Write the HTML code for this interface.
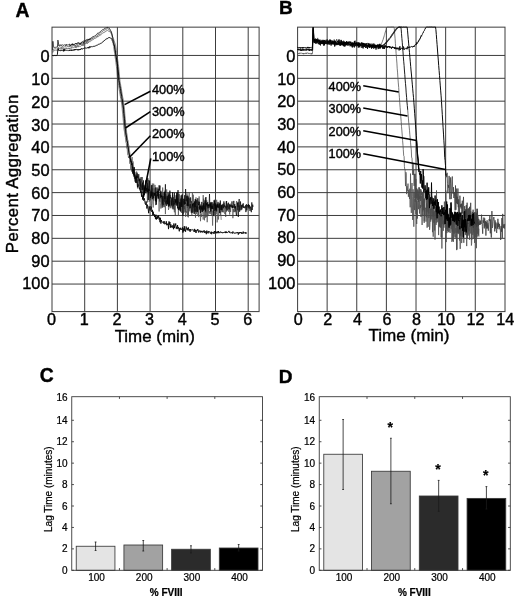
<!DOCTYPE html>
<html><head><meta charset="utf-8"><title>Figure</title>
<style>html,body{margin:0;padding:0;background:#fff}svg{display:block}</style></head>
<body>
<svg width="520" height="602" viewBox="0 0 520 602">
<rect width="520" height="602" fill="#fff"/>
<g stroke="#3c3c3c" stroke-width="1" fill="none">
<rect x="52.00" y="27.15" width="207.10" height="284.45"/>
<line x1="84.70" y1="27.15" x2="84.70" y2="311.60"/>
<line x1="117.40" y1="27.15" x2="117.40" y2="311.60"/>
<line x1="150.10" y1="27.15" x2="150.10" y2="311.60"/>
<line x1="182.80" y1="27.15" x2="182.80" y2="311.60"/>
<line x1="215.50" y1="27.15" x2="215.50" y2="311.60"/>
<line x1="248.20" y1="27.15" x2="248.20" y2="311.60"/>
<line x1="52.00" y1="55.45" x2="259.10" y2="55.45"/>
<line x1="52.00" y1="78.31" x2="259.10" y2="78.31"/>
<line x1="52.00" y1="101.17" x2="259.10" y2="101.17"/>
<line x1="52.00" y1="124.03" x2="259.10" y2="124.03"/>
<line x1="52.00" y1="146.89" x2="259.10" y2="146.89"/>
<line x1="52.00" y1="169.75" x2="259.10" y2="169.75"/>
<line x1="52.00" y1="192.61" x2="259.10" y2="192.61"/>
<line x1="52.00" y1="215.47" x2="259.10" y2="215.47"/>
<line x1="52.00" y1="238.33" x2="259.10" y2="238.33"/>
<line x1="52.00" y1="261.19" x2="259.10" y2="261.19"/>
<line x1="52.00" y1="284.05" x2="259.10" y2="284.05"/>
</g>
<g stroke="#3c3c3c" stroke-width="1" fill="none">
<rect x="297.60" y="27.15" width="207.40" height="284.45"/>
<line x1="327.13" y1="27.15" x2="327.13" y2="311.60"/>
<line x1="356.76" y1="27.15" x2="356.76" y2="311.60"/>
<line x1="386.39" y1="27.15" x2="386.39" y2="311.60"/>
<line x1="416.02" y1="27.15" x2="416.02" y2="311.60"/>
<line x1="445.65" y1="27.15" x2="445.65" y2="311.60"/>
<line x1="475.28" y1="27.15" x2="475.28" y2="311.60"/>
<line x1="297.60" y1="55.45" x2="505.00" y2="55.45"/>
<line x1="297.60" y1="78.31" x2="505.00" y2="78.31"/>
<line x1="297.60" y1="101.17" x2="505.00" y2="101.17"/>
<line x1="297.60" y1="124.03" x2="505.00" y2="124.03"/>
<line x1="297.60" y1="146.89" x2="505.00" y2="146.89"/>
<line x1="297.60" y1="169.75" x2="505.00" y2="169.75"/>
<line x1="297.60" y1="192.61" x2="505.00" y2="192.61"/>
<line x1="297.60" y1="215.47" x2="505.00" y2="215.47"/>
<line x1="297.60" y1="238.33" x2="505.00" y2="238.33"/>
<line x1="297.60" y1="261.19" x2="505.00" y2="261.19"/>
<line x1="297.60" y1="284.05" x2="505.00" y2="284.05"/>
</g>
<g>
<polyline points="52.0,53.3 52.5,53.1 52.9,52.0 53.4,50.7 53.8,50.7 54.3,50.5 54.7,50.6 55.2,50.6 55.6,50.1 56.1,50.5 56.5,50.3 57.0,50.5 57.4,50.4 57.9,49.5 58.3,49.2 58.8,48.5 59.2,49.2 59.7,48.4 60.1,48.8 60.6,48.5 61.0,49.6 61.5,48.5 61.9,48.9 62.4,49.0 62.8,48.5 63.3,49.0 63.7,48.5 64.2,50.3 64.6,48.4 65.1,49.2 65.5,49.4 66.0,47.9 66.4,48.9 66.9,48.2 67.3,48.3 67.8,48.7 68.2,48.1 68.7,48.8 69.1,47.8 69.6,49.2 70.0,48.0 70.5,48.3 70.9,47.7 71.4,48.4 71.8,47.2 72.3,48.1 72.7,47.7 73.2,47.5 73.6,47.6 74.1,47.4 74.5,47.1 75.0,47.4 75.4,46.5 75.9,48.0 76.3,46.3 76.8,47.4 77.2,46.4 77.7,46.9 78.1,46.0 78.6,47.0 79.0,46.9 79.5,46.1 79.9,45.9 80.4,46.3 80.8,46.2 81.3,45.8 81.7,44.7 82.2,45.3 82.6,44.8 83.1,46.0 83.5,43.4 84.0,44.7 84.4,43.8 84.9,43.3 85.3,43.6 85.8,43.9 86.2,42.5 86.7,42.8 87.1,43.9 87.6,43.1 88.0,41.7 88.5,42.6 88.9,41.3 89.4,41.7 89.8,41.3 90.3,41.6 90.7,40.5 91.2,40.8 91.6,39.9 92.1,40.2 92.5,39.8 93.0,39.9 93.4,39.2 93.9,39.2 94.3,38.4 94.8,38.9 95.2,38.5 95.7,37.9 96.1,37.6 96.6,37.8 97.0,37.1 97.5,36.4 97.9,37.1 98.4,35.9 98.8,35.8 99.3,35.9 99.7,35.2 100.2,34.6 100.6,35.3 101.1,34.2 101.5,34.1 102.0,33.4 102.4,33.0 102.9,33.2 103.3,32.7 103.8,33.0 104.2,32.1 104.7,32.1 105.1,31.6 105.6,31.7 106.0,31.1 106.5,30.8 106.9,30.7 107.4,30.2 107.8,30.7 108.3,30.8 108.7,31.4 109.2,31.2 109.6,31.5 110.1,31.6 110.5,32.7 111.0,33.2 111.4,34.2 111.9,34.6 112.3,36.0 112.8,37.3 113.2,38.6 113.7,39.4 114.1,41.0 114.6,42.3 115.0,43.3 115.5,44.9 115.9,47.1 116.4,50.5 116.8,53.4 117.3,57.2 117.7,59.9 118.2,63.3 118.6,66.5 119.1,71.6 119.5,76.2 120.0,81.3 120.4,83.3 120.9,86.4 121.3,88.1 121.8,92.0 122.2,94.1 122.7,97.2 123.1,98.7 123.6,102.7 124.0,105.0 124.5,109.2 124.9,115.3 125.4,119.5 125.8,125.0 126.3,128.7 126.7,133.0 127.2,135.3 127.6,139.4 128.1,140.7 128.5,145.1 129.0,145.6 129.4,150.2 129.9,153.1 130.3,155.3 130.8,160.5 131.2,158.8 131.7,162.8 132.1,157.0 132.6,166.5 133.0,161.4 133.5,164.6 133.9,172.9 134.4,175.2 134.8,171.8 135.3,173.9 135.7,177.1 136.2,174.6 136.6,176.0 137.1,176.5 137.5,188.4 138.0,176.0 138.4,181.1 138.9,174.2 139.3,180.2 139.8,183.6 140.2,178.7 140.7,185.9 141.1,187.9 141.6,186.1 142.0,182.9 142.5,177.1 142.9,187.3 143.4,186.6 143.8,196.9 144.3,185.7 144.7,190.1 145.2,185.7 145.6,188.0 146.1,190.7 146.5,179.8 146.9,193.1 147.4,183.2 147.8,183.5 148.3,194.5 148.7,186.2 149.2,201.9 149.6,196.5 150.1,189.6 150.5,200.0 151.0,192.0 151.4,185.5 151.9,197.5 152.3,183.5 152.8,195.8 153.2,207.5 153.7,183.6 154.1,192.7 154.6,195.3 155.0,192.0 155.5,202.3 155.9,194.8 156.4,201.6 156.8,198.3 157.3,193.8 157.7,187.4 158.2,198.7 158.6,194.2 159.1,197.9 159.5,200.7 160.0,197.5 160.4,203.3 160.9,208.6 161.3,199.4 161.8,192.9 162.2,203.8 162.7,197.1 163.1,192.7 163.6,193.4 164.0,201.3 164.5,201.9 164.9,190.7 165.4,214.1 165.8,194.0 166.3,201.8 166.7,189.4 167.2,204.3 167.6,198.4 168.1,204.5 168.5,195.1 169.0,202.9 169.4,191.9 169.9,206.9 170.3,194.9 170.8,205.9 171.2,204.8 171.7,198.7 172.1,208.3 172.6,198.9 173.0,205.4 173.5,197.3 173.9,207.5 174.4,212.3 174.8,199.0 175.3,215.1 175.7,199.7 176.2,203.6 176.6,192.9 177.1,195.8 177.5,205.5 178.0,198.3 178.4,215.1 178.9,200.7 179.3,194.4 179.8,209.3 180.2,199.6 180.7,211.3 181.1,198.9 181.6,212.9 182.0,203.9 182.5,207.3 182.9,199.0 183.4,213.6 183.8,209.8 184.3,206.1 184.7,212.5 185.2,201.9 185.6,216.8 186.1,211.2 186.5,212.8 187.0,199.1 187.4,216.6 187.9,207.6 188.3,217.4 188.8,208.7 189.2,204.3 189.7,211.3 190.1,204.6 190.6,206.3 191.0,212.5 191.5,213.2 191.9,214.9 192.4,192.5 192.8,211.9 193.3,205.4 193.7,207.9 194.2,202.1 194.6,210.5 195.1,209.1 195.5,217.7 196.0,197.4 196.4,214.1 196.9,207.1 197.3,211.2 197.8,211.3 198.2,201.3 198.7,217.1 199.1,196.4 199.6,203.4 200.0,207.3 200.5,221.2 200.9,213.9 201.4,216.9 201.8,210.9 202.3,207.4 202.7,209.5 203.2,219.6 203.6,198.7 204.1,208.7 204.5,220.3 205.0,202.2 205.4,217.7 205.9,206.3 206.3,217.2 206.8,200.3 207.2,222.2 207.7,207.2 208.1,211.4 208.6,210.3 209.0,213.2 209.5,211.0 209.9,214.2 210.4,204.1 210.8,214.1 211.3,205.9 211.7,215.4 212.2,210.8 212.6,225.6 213.1,209.8 213.5,212.8 214.0,200.2 214.4,216.2 214.9,211.7 215.3,215.4 215.8,209.7 216.2,214.0 216.7,199.8 217.1,222.4 217.6,216.4 218.0,205.7 218.5,219.5 218.9,209.7 219.4,212.9 219.8,204.4 220.3,215.0 220.7,211.0 221.2,219.9" fill="none" stroke="#4a4a4a" stroke-width="0.65" stroke-linejoin="round" opacity="1"/>
<polyline points="52.0,51.4 52.5,51.4 52.9,50.5 53.4,49.6 53.8,48.9 54.3,48.9 54.7,49.0 55.2,48.8 55.6,48.8 56.1,48.7 56.5,49.1 57.0,48.8 57.4,48.6 57.9,48.5 58.3,47.3 58.8,47.2 59.2,46.8 59.7,46.8 60.1,46.8 60.6,47.3 61.0,47.3 61.5,46.8 61.9,48.4 62.4,46.5 62.8,46.1 63.3,47.3 63.7,47.5 64.2,47.1 64.6,46.8 65.1,47.0 65.5,46.7 66.0,46.5 66.4,47.2 66.9,46.7 67.3,46.4 67.8,46.6 68.2,47.1 68.7,46.4 69.1,46.8 69.6,45.9 70.0,46.8 70.5,45.5 70.9,46.2 71.4,46.1 71.8,46.4 72.3,45.5 72.7,46.4 73.2,45.8 73.6,45.5 74.1,46.1 74.5,45.4 75.0,46.4 75.4,45.2 75.9,46.2 76.3,45.0 76.8,44.3 77.2,44.7 77.7,45.8 78.1,44.6 78.6,45.4 79.0,45.0 79.5,44.7 79.9,43.6 80.4,45.0 80.8,43.3 81.3,44.2 81.7,43.7 82.2,44.7 82.6,44.0 83.1,42.7 83.5,43.4 84.0,42.3 84.4,43.4 84.9,42.8 85.3,42.0 85.8,41.3 86.2,41.0 86.7,42.6 87.1,40.7 87.6,41.5 88.0,40.6 88.5,40.6 88.9,40.5 89.4,40.0 89.8,40.3 90.3,39.2 90.7,39.7 91.2,38.9 91.6,39.0 92.1,38.2 92.5,38.8 93.0,37.8 93.4,38.1 93.9,37.3 94.3,37.5 94.8,36.8 95.2,37.3 95.7,36.8 96.1,36.0 96.6,36.4 97.0,35.5 97.5,35.7 97.9,35.1 98.4,34.7 98.8,34.0 99.3,34.5 99.7,33.6 100.2,33.3 100.6,32.4 101.1,32.3 101.5,32.3 102.0,31.5 102.4,31.6 102.9,31.0 103.3,30.9 103.8,30.3 104.2,30.6 104.7,29.7 105.1,29.7 105.6,29.7 106.0,29.3 106.5,29.3 106.9,28.4 107.4,28.6 107.8,29.1 108.3,29.2 108.7,29.7 109.2,29.8 109.6,29.8 110.1,30.8 110.5,31.2 111.0,32.2 111.4,32.7 111.9,34.8 112.3,38.1 112.8,40.7 113.2,44.1 113.7,46.7 114.1,50.1 114.6,53.1 115.0,56.6 115.5,59.5 115.9,62.7 116.4,66.3 116.8,70.1 117.3,76.1 117.7,80.6 118.2,83.5 118.6,85.6 119.1,89.3 119.5,91.3 120.0,94.4 120.4,96.5 120.9,99.1 121.3,101.7 121.8,105.0 122.2,108.9 122.7,114.2 123.1,118.7 123.6,124.2 124.0,129.4 124.5,132.0 124.9,135.8 125.4,137.3 125.8,142.1 126.3,143.1 126.7,148.3 127.2,148.3 127.6,154.5 128.1,154.3 128.5,157.9 129.0,156.3 129.4,157.5 129.9,163.8 130.3,159.5 130.8,169.0 131.2,164.1 131.7,171.6 132.1,168.9 132.6,171.1 133.0,169.9 133.5,176.5 133.9,171.7 134.4,178.6 134.8,174.5 135.3,181.9 135.7,183.0 136.2,172.9 136.6,171.5 137.1,183.1 137.5,180.4 138.0,184.5 138.4,177.4 138.9,186.1 139.3,179.3 139.8,189.5 140.2,181.3 140.7,186.5 141.1,184.3 141.6,190.4 142.0,185.7 142.5,189.8 142.9,188.0 143.4,192.2 143.8,184.9 144.3,189.5 144.7,188.2 145.2,191.2 145.6,185.1 146.1,191.1 146.5,193.2 146.9,185.5 147.4,202.4 147.8,189.8 148.3,191.8 148.7,180.0 149.2,190.4 149.6,200.1 150.1,200.7 150.5,196.3 151.0,190.5 151.4,205.9 151.9,203.3 152.3,188.3 152.8,194.7 153.2,191.9 153.7,200.6 154.1,188.3 154.6,194.3 155.0,184.9 155.5,205.1 155.9,187.3 156.4,201.9 156.8,194.6 157.3,197.3 157.7,195.3 158.2,198.7 158.6,190.5 159.1,211.5 159.5,194.1 160.0,201.8 160.4,193.0 160.9,199.1 161.3,198.1 161.8,194.9 162.2,205.4 162.7,187.5 163.1,201.9 163.6,205.2 164.0,192.5 164.5,201.4 164.9,198.8 165.4,204.9 165.8,196.6 166.3,199.8 166.7,198.2 167.2,197.4 167.6,201.3 168.1,199.9 168.5,209.9 169.0,207.6 169.4,204.6 169.9,200.1 170.3,208.2 170.8,200.6 171.2,204.2 171.7,197.7 172.1,207.1 172.6,195.0 173.0,201.7 173.5,205.7 173.9,201.1 174.4,209.8 174.8,203.3 175.3,204.6 175.7,201.3 176.2,202.0 176.6,193.3 177.1,201.8 177.5,204.1 178.0,201.0 178.4,203.4 178.9,193.6 179.3,204.5 179.8,208.1 180.2,199.3 180.7,212.1 181.1,197.9 181.6,204.6 182.0,198.1 182.5,194.0 182.9,206.9 183.4,201.2 183.8,205.2 184.3,209.0 184.7,199.5 185.2,208.9 185.6,211.8 186.1,203.5 186.5,205.7 187.0,193.3 187.4,208.0 187.9,197.5 188.3,216.0 188.8,198.6 189.2,192.8 189.7,209.1 190.1,207.8 190.6,203.8 191.0,208.9 191.5,212.2 191.9,206.9 192.4,205.4 192.8,212.8 193.3,194.7 193.7,205.2 194.2,212.5 194.6,204.4 195.1,199.1 195.5,212.1 196.0,206.4 196.4,208.4 196.9,206.0 197.3,208.8 197.8,215.2 198.2,213.2 198.7,207.0 199.1,208.5 199.6,201.9 200.0,208.3 200.5,204.5 200.9,211.7 201.4,206.7 201.8,211.5 202.3,209.3 202.7,209.0 203.2,195.1 203.6,208.8 204.1,205.7 204.5,208.9 205.0,203.5 205.4,197.9 205.9,212.7 206.3,206.2 206.8,206.1 207.2,208.9 207.7,204.2 208.1,216.1 208.6,204.2 209.0,209.6 209.5,203.7 209.9,207.9 210.4,203.8 210.8,212.2 211.3,202.2 211.7,202.2 212.2,207.9 212.6,202.1 213.1,208.8 213.5,208.6 214.0,208.5 214.4,199.7 214.9,205.7 215.3,204.0 215.8,204.7 216.2,208.4 216.7,207.9 217.1,204.6 217.6,207.6 218.0,203.4 218.5,208.8 218.9,209.7 219.4,207.2 219.8,202.6 220.3,210.4 220.7,205.3 221.2,210.8 221.6,206.3 222.1,210.0 222.5,204.9 223.0,210.0 223.4,212.4 223.9,205.7 224.3,203.3 224.8,214.1 225.2,207.8 225.7,216.9 226.1,201.4 226.6,211.8 227.0,208.5 227.5,203.6 227.9,210.4 228.4,206.3 228.8,212.0 229.3,204.6 229.7,214.5 230.2,203.6 230.6,212.0 231.1,204.6 231.5,206.1 232.0,208.1 232.4,205.0 232.9,218.2 233.3,209.0 233.8,212.2 234.2,207.7 234.7,212.1 235.1,205.9 235.6,211.5 236.0,205.3 236.5,201.1 236.9,204.3 237.4,210.2 237.8,201.8 238.3,207.3 238.7,202.4 239.2,210.2 239.6,205.2" fill="none" stroke="#3a3a3a" stroke-width="0.6" stroke-linejoin="round" opacity="1"/>
<polyline points="52.0,55.4 52.5,55.5 52.9,55.4 53.4,55.7 53.8,55.5 54.3,55.4 54.7,55.6 55.2,55.7 55.6,55.5 56.1,55.7 56.5,55.5 57.0,55.4 57.4,54.4 57.9,48.8 58.3,48.5 58.8,50.8 59.2,50.4 59.7,50.5 60.1,50.5 60.6,50.9 61.0,50.0 61.5,50.7 61.9,50.3 62.4,50.6 62.8,50.0 63.3,49.5 63.7,51.4 64.2,49.2 64.6,50.8 65.1,49.9 65.5,50.3 66.0,50.2 66.4,50.4 66.9,50.0 67.3,50.4 67.8,50.3 68.2,50.6 68.7,50.3 69.1,50.0 69.6,50.9 70.0,49.8 70.5,50.0 70.9,50.6 71.4,49.7 71.8,50.9 72.3,49.8 72.7,50.0 73.2,50.6 73.6,49.8 74.1,49.2 74.5,50.3 75.0,49.0 75.4,50.1 75.9,49.1 76.3,49.8 76.8,49.4 77.2,49.7 77.7,49.0 78.1,50.4 78.6,49.4 79.0,49.2 79.5,50.1 79.9,49.0 80.4,49.8 80.8,48.8 81.3,49.0 81.7,48.4 82.2,49.3 82.6,48.8 83.1,48.4 83.5,49.0 84.0,48.3 84.4,48.0 84.9,48.3 85.3,48.1 85.8,47.8 86.2,48.4 86.7,47.8 87.1,47.9 87.6,47.5 88.0,48.2 88.5,47.2 88.9,48.2 89.4,46.5 89.8,47.7 90.3,47.4 90.7,46.5 91.2,47.1 91.6,46.6 92.1,46.8 92.5,46.8 93.0,46.3 93.4,46.4 93.9,46.2 94.3,46.3 94.8,46.2 95.2,46.3 95.7,45.6 96.1,45.7 96.6,45.3 97.0,45.4 97.5,45.1 97.9,44.9 98.4,44.4 98.8,44.1 99.3,44.3 99.7,43.8 100.2,43.8 100.6,43.3 101.1,43.4 101.5,43.2 102.0,42.5 102.4,42.3 102.9,41.7 103.3,41.6 103.8,41.0 104.2,40.4 104.7,40.5 105.1,39.8 105.6,39.4 106.0,39.4 106.5,39.1 106.9,38.4 107.4,38.6 107.8,38.1 108.3,37.9 108.7,37.8 109.2,37.1 109.6,37.7 110.1,37.8 110.5,38.1 111.0,38.1 111.4,38.5 111.9,38.9 112.3,40.8 112.8,41.4 113.2,42.7 113.7,43.7 114.1,45.1 114.6,46.0 115.0,49.5 115.5,52.3 115.9,54.6 116.4,57.9 116.8,60.5 117.3,63.5 117.7,66.0 118.2,69.7 118.6,75.1 119.1,80.5 119.5,82.8 120.0,85.8 120.4,88.4 120.9,90.9 121.3,93.9 121.8,96.5 122.2,98.7 122.7,102.1 123.1,104.4 123.6,109.1 124.0,113.5 124.5,118.8 124.9,123.3 125.4,128.2 125.8,132.2 126.3,134.9 126.7,138.2 127.2,140.5 127.6,143.4 128.1,146.3 128.5,149.9 129.0,152.5 129.4,154.8 129.9,157.9 130.3,158.9 130.8,160.2 131.2,161.8 131.7,163.4 132.1,165.2 132.6,168.5 133.0,166.8 133.5,171.3 133.9,171.4 134.4,176.4 134.8,174.9 135.3,178.7 135.7,176.8 136.2,182.9 136.6,176.4 137.1,181.6 137.5,187.1 138.0,184.3 138.4,186.5 138.9,186.8 139.3,188.9 139.8,188.1 140.2,189.1 140.7,192.7 141.1,191.4 141.6,196.7 142.0,194.7 142.5,197.4 142.9,197.2 143.4,200.4 143.8,200.5 144.3,198.3 144.7,200.3 145.2,203.9 145.6,204.7 146.1,201.4 146.5,203.8 146.9,208.5 147.4,204.7 147.8,206.3 148.3,210.1 148.7,213.2 149.2,206.4 149.6,207.9 150.1,210.6 150.5,207.4 151.0,206.1 151.4,206.7 151.9,212.0 152.3,209.9 152.8,215.0 153.2,211.7 153.7,214.9 154.1,214.0 154.6,217.0 155.0,215.1 155.5,219.1 155.9,214.7 156.4,219.5 156.8,217.2 157.3,218.8 157.7,216.0 158.2,217.8 158.6,215.6 159.1,219.5 159.5,217.7 160.0,222.2 160.4,217.8 160.9,223.6 161.3,220.1 161.8,221.6 162.2,221.7 162.7,222.4 163.1,222.0 163.6,223.5 164.0,221.0 164.5,223.0 164.9,224.3 165.4,223.2 165.8,223.7 166.3,221.3 166.7,225.2 167.2,223.9 167.6,225.1 168.1,223.4 168.5,229.1 169.0,221.4 169.4,224.7 169.9,222.0 170.3,227.7 170.8,224.3 171.2,226.9 171.7,225.8 172.1,227.8 172.6,225.7 173.0,225.2 173.5,229.2 173.9,223.5 174.4,228.1 174.8,225.5 175.3,225.4 175.7,223.5 176.2,228.5 176.6,226.8 177.1,229.1 177.5,225.0 178.0,228.4 178.4,227.1 178.9,229.3 179.3,231.3 179.8,227.9 180.2,229.5 180.7,227.8 181.1,229.9 181.6,229.2 182.0,229.5 182.5,227.4 182.9,232.6 183.4,228.5 183.8,231.3 184.3,226.2 184.7,230.6 185.2,229.8 185.6,231.7 186.1,226.5 186.5,227.9 187.0,229.8 187.4,228.3 187.9,230.4 188.3,227.4 188.8,229.8 189.2,230.7 189.7,229.2 190.1,231.8 190.6,229.1 191.0,229.6 191.5,230.3 191.9,229.7 192.4,230.1 192.8,229.5 193.3,229.8 193.7,230.6 194.2,232.0 194.6,228.9 195.1,231.5 195.5,229.9 196.0,233.0 196.4,230.9 196.9,229.9 197.3,230.6 197.8,229.1 198.2,231.0 198.7,232.5 199.1,230.5 199.6,231.3 200.0,230.7 200.5,232.4 200.9,230.9 201.4,232.1 201.8,230.9 202.3,232.5 202.7,231.3 203.2,231.3 203.6,232.2 204.1,230.3 204.5,232.8 205.0,231.5 205.4,232.6 205.9,231.3 206.3,234.2 206.8,230.6 207.2,232.6 207.7,231.7 208.1,233.4 208.6,231.2 209.0,232.0 209.5,231.8 209.9,231.8 210.4,233.6 210.8,233.1 211.3,231.7 211.7,234.2 212.2,232.2 212.6,232.5 213.1,232.0 213.5,232.1 214.0,234.0 214.4,231.2 214.9,232.6 215.3,231.3 215.8,232.7 216.2,231.7 216.7,233.2 217.1,233.3 217.6,231.5 218.0,232.8 218.5,231.0 218.9,233.2 219.4,232.3 219.8,232.7 220.3,232.7 220.7,231.6 221.2,232.1 221.6,232.8 222.1,232.1 222.5,233.2 223.0,232.5 223.4,232.6 223.9,232.0 224.3,232.7 224.8,231.8 225.2,231.7 225.7,233.1 226.1,231.4 226.6,233.0 227.0,232.4 227.5,232.6 227.9,232.2 228.4,231.6 228.8,230.9 229.3,232.6 229.7,231.7 230.2,233.0 230.6,233.1 231.1,232.5 231.5,232.7 232.0,232.4 232.4,233.5 232.9,231.5 233.3,232.7 233.8,233.0 234.2,232.8 234.7,233.5 235.1,232.7 235.6,233.3 236.0,232.7 236.5,233.2 236.9,232.3 237.4,233.0 237.8,232.2 238.3,234.6 238.7,232.9 239.2,232.1 239.6,233.4 240.1,232.0 240.5,233.0 241.0,232.1 241.4,233.7 241.9,232.4 242.3,233.4 242.8,233.7 243.2,231.6 243.7,233.3 244.1,233.4 244.6,232.6 245.0,232.2 245.5,233.5 245.9,232.2 246.4,233.7" fill="none" stroke="#0a0a0a" stroke-width="0.95" stroke-linejoin="round" opacity="1"/>
<polyline points="52.0,49.8 52.5,49.8 52.9,41.3 53.4,46.3 53.8,47.5 54.3,47.3 54.7,47.4 55.2,47.2 55.6,47.4 56.1,47.0 56.5,47.2 57.0,47.0 57.4,47.2 57.9,40.1 58.3,41.8 58.8,45.9 59.2,45.2 59.7,45.1 60.1,45.4 60.6,44.7 61.0,45.8 61.5,44.9 61.9,45.2 62.4,44.7 62.8,45.0 63.3,45.5 63.7,45.0 64.2,45.2 64.6,44.7 65.1,44.9 65.5,44.8 66.0,46.0 66.4,44.3 66.9,44.9 67.3,45.1 67.8,44.8 68.2,45.0 68.7,44.8 69.1,44.2 69.6,44.0 70.0,46.0 70.5,44.8 70.9,45.2 71.4,44.3 71.8,45.2 72.3,43.6 72.7,45.0 73.2,43.9 73.6,45.0 74.1,45.0 74.5,44.1 75.0,44.4 75.4,43.3 75.9,44.1 76.3,43.0 76.8,43.9 77.2,43.8 77.7,43.9 78.1,42.2 78.6,43.5 79.0,43.3 79.5,43.0 79.9,44.3 80.4,42.9 80.8,43.6 81.3,42.4 81.7,43.1 82.2,41.5 82.6,41.7 83.1,42.5 83.5,42.8 84.0,40.6 84.4,41.4 84.9,40.9 85.3,41.2 85.8,40.1 86.2,40.2 86.7,39.5 87.1,40.8 87.6,40.1 88.0,38.9 88.5,40.0 88.9,39.1 89.4,39.9 89.8,38.5 90.3,39.2 90.7,38.1 91.2,38.0 91.6,37.7 92.1,37.7 92.5,36.8 93.0,37.1 93.4,36.4 93.9,36.5 94.3,36.1 94.8,35.9 95.2,35.9 95.7,35.2 96.1,35.1 96.6,34.5 97.0,34.5 97.5,33.2 97.9,33.2 98.4,33.3 98.8,33.2 99.3,32.2 99.7,32.2 100.2,31.7 100.6,31.4 101.1,30.8 101.5,30.6 102.0,30.2 102.4,29.9 102.9,29.6 103.3,29.2 103.8,29.5 104.2,28.8 104.7,28.4 105.1,28.7 105.6,27.9 106.0,28.2 106.5,27.9 106.9,27.5 107.4,27.4 107.8,27.7 108.3,27.7 108.7,28.2 109.2,27.9 109.6,28.8 110.1,29.4 110.5,30.4 111.0,30.9 111.4,31.8 111.9,33.7 112.3,35.4 112.8,37.7 113.2,39.6 113.7,41.7 114.1,44.3 114.6,46.9 115.0,49.9 115.5,53.4 115.9,56.4 116.4,59.9 116.8,62.7 117.3,66.3 117.7,70.8 118.2,76.1 118.6,80.3 119.1,83.7 119.5,85.7 120.0,88.6 120.4,91.5 120.9,94.0 121.3,97.5 121.8,98.9 122.2,101.5 122.7,105.2 123.1,108.6 123.6,113.2 124.0,119.3 124.5,123.2 124.9,129.4 125.4,131.9 125.8,135.6 126.3,137.8 126.7,141.2 127.2,142.4 127.6,146.8 128.1,147.6 128.5,151.8 129.0,154.6 129.4,154.7 129.9,158.2 130.3,157.9 130.8,161.7 131.2,161.0 131.7,165.0 132.1,163.2 132.6,173.6 133.0,168.7 133.5,173.9 133.9,175.1 134.4,167.2 134.8,179.7 135.3,181.8 135.7,177.1 136.2,176.4 136.6,177.4 137.1,172.7 137.5,177.8 138.0,174.1 138.4,176.2 138.9,178.3 139.3,181.2 139.8,178.8 140.2,190.5 140.7,180.8 141.1,177.0 141.6,182.0 142.0,194.6 142.5,182.6 142.9,189.7 143.4,180.4 143.8,187.0 144.3,195.1 144.7,187.7 145.2,193.3 145.6,180.4 146.1,191.5 146.5,189.0 146.9,187.8 147.4,192.0 147.8,178.2 148.3,200.0 148.7,188.8 149.2,191.0 149.6,180.6 150.1,193.2 150.5,198.1 151.0,191.6 151.4,196.3 151.9,185.0 152.3,199.2 152.8,192.3 153.2,194.6 153.7,198.3 154.1,193.0 154.6,195.6 155.0,192.8 155.5,201.1 155.9,187.6 156.4,204.7 156.8,196.0 157.3,190.9 157.7,195.9 158.2,188.7 158.6,198.4 159.1,185.3 159.5,190.5 160.0,185.6 160.4,197.7 160.9,190.8 161.3,197.1 161.8,195.7 162.2,207.7 162.7,196.9 163.1,196.1 163.6,201.8 164.0,207.2 164.5,192.0 164.9,198.9 165.4,184.3 165.8,203.6 166.3,200.4 166.7,205.9 167.2,195.8 167.6,204.1 168.1,193.0 168.5,206.6 169.0,194.4 169.4,205.7 169.9,190.6 170.3,198.3 170.8,197.3 171.2,198.2 171.7,205.5 172.1,201.2 172.6,192.3 173.0,209.3 173.5,202.6 173.9,198.5 174.4,192.8 174.8,204.6 175.3,199.3 175.7,202.7 176.2,195.2 176.6,205.6 177.1,192.5 177.5,208.4 178.0,190.1 178.4,209.9 178.9,207.2 179.3,209.7 179.8,202.2 180.2,211.0 180.7,202.1 181.1,195.4 181.6,206.9 182.0,194.7 182.5,199.6 182.9,216.0 183.4,199.1 183.8,198.7 184.3,204.6 184.7,195.2 185.2,204.0 185.6,189.0 186.1,201.3 186.5,196.9 187.0,195.7 187.4,205.8 187.9,195.8 188.3,206.3 188.8,197.6 189.2,198.7 189.7,199.8 190.1,208.1 190.6,197.4 191.0,202.4 191.5,201.5 191.9,213.1 192.4,203.8 192.8,206.3 193.3,203.1 193.7,205.6 194.2,214.0 194.6,201.4 195.1,206.9 195.5,199.3 196.0,211.7 196.4,203.1 196.9,199.8 197.3,212.1 197.8,198.2 198.2,203.7 198.7,205.1 199.1,201.8 199.6,209.6 200.0,206.1 200.5,213.2 200.9,205.6 201.4,209.6 201.8,201.9 202.3,212.0 202.7,205.5 203.2,210.8 203.6,203.3 204.1,209.9 204.5,207.6 205.0,200.3 205.4,211.4 205.9,197.0 206.3,205.5 206.8,203.0 207.2,206.7 207.7,202.1 208.1,208.1 208.6,204.7 209.0,206.0 209.5,194.0 209.9,207.4 210.4,202.4 210.8,211.4 211.3,202.5 211.7,208.9 212.2,205.7 212.6,209.3 213.1,203.6 213.5,215.6 214.0,212.3 214.4,200.6 214.9,211.1 215.3,203.4 215.8,209.8 216.2,205.3 216.7,211.4 217.1,203.8 217.6,207.3 218.0,201.9 218.5,207.7 218.9,204.8 219.4,203.6 219.8,213.1 220.3,200.5 220.7,205.8 221.2,209.9 221.6,204.8 222.1,212.2 222.5,205.2 223.0,203.8 223.4,208.3 223.9,201.4 224.3,206.7 224.8,205.3 225.2,207.5 225.7,206.4 226.1,208.5 226.6,201.0 227.0,210.5 227.5,205.8 227.9,206.1 228.4,202.7 228.8,208.7 229.3,209.3 229.7,204.4 230.2,206.6 230.6,205.3 231.1,206.8 231.5,206.8 232.0,201.4 232.4,208.0 232.9,206.0 233.3,207.6 233.8,200.9 234.2,208.1 234.7,204.1 235.1,208.3 235.6,206.3 236.0,212.7 236.5,215.7 236.9,207.4 237.4,202.8 237.8,207.7 238.3,216.9 238.7,204.3 239.2,199.0 239.6,211.7 240.1,209.6 240.5,201.5 241.0,210.2 241.4,205.1 241.9,209.4 242.3,204.4 242.8,207.5 243.2,203.3 243.7,208.0 244.1,206.3 244.6,208.0 245.0,208.3 245.5,205.3 245.9,212.1 246.4,204.2 246.8,210.4 247.3,206.7 247.7,204.9 248.2,207.5 248.6,204.2 249.1,208.6 249.5,205.1 250.0,210.9 250.4,206.6 250.9,208.9 251.3,212.2 251.8,202.4 252.2,210.0 252.7,204.6 253.1,206.9" fill="none" stroke="#000" stroke-width="0.7" stroke-linejoin="round" opacity="1"/>
</g>
<g>
<polyline points="297.5,53.3 297.9,53.0 298.2,53.6 298.6,53.0 298.9,53.7 299.3,53.7 299.7,52.8 300.0,53.4 300.4,53.0 300.7,53.2 301.1,53.3 301.5,52.8 301.8,53.3 302.2,53.7 302.5,53.1 302.9,53.7 303.3,53.1 303.6,54.2 304.0,53.3 304.3,53.8 304.7,53.5 305.1,53.1 305.4,53.4 305.8,52.8 306.1,54.0 306.5,53.1 306.9,52.9 307.2,52.9 307.6,52.9 307.9,53.1 308.3,53.6 308.7,52.9 309.0,53.6 309.4,53.0 309.7,53.4 310.1,53.1 310.5,53.8 310.8,54.0 311.2,54.4 311.5,53.0 311.9,53.7 312.3,53.9 312.6,51.2 313.0,27.7 313.3,27.1 313.7,39.5 314.1,39.4 314.4,39.9 314.8,39.3 315.1,42.2 315.5,38.4 315.9,40.0 316.2,43.0 316.6,38.9 316.9,43.4 317.3,40.3 317.7,37.9 318.0,40.7 318.4,39.0 318.7,42.9 319.1,39.7 319.5,40.9 319.8,40.8 320.2,42.0 320.5,39.7 320.9,40.9 321.3,40.4 321.6,40.4 322.0,40.7 322.3,39.8 322.7,41.8 323.1,40.2 323.4,39.8 323.8,42.5 324.1,40.6 324.5,40.8 324.9,43.7 325.2,39.8 325.6,42.3 325.9,41.0 326.3,41.0 326.7,41.9 327.0,39.9 327.4,41.6 327.7,41.4 328.1,40.7 328.5,42.2 328.8,43.0 329.2,40.5 329.5,41.4 329.9,40.5 330.3,42.7 330.6,39.8 331.0,43.7 331.3,40.7 331.7,40.9 332.1,40.2 332.4,44.2 332.8,40.8 333.1,43.1 333.5,44.1 333.9,41.6 334.2,39.4 334.6,42.1 334.9,40.9 335.3,42.2 335.7,41.2 336.0,42.5 336.4,41.9 336.7,39.0 337.1,41.9 337.5,41.5 337.8,40.6 338.2,42.0 338.5,39.8 338.9,44.6 339.3,41.7 339.6,41.9 340.0,41.8 340.3,43.6 340.7,41.8 341.1,40.4 341.4,43.3 341.8,42.7 342.1,41.6 342.5,43.5 342.9,41.6 343.2,43.7 343.6,40.6 343.9,42.6 344.3,41.3 344.7,42.5 345.0,41.9 345.4,43.2 345.7,43.5 346.1,44.2 346.5,41.9 346.8,42.2 347.2,43.0 347.5,41.8 347.9,43.8 348.3,42.0 348.6,43.0 349.0,41.6 349.3,43.0 349.7,42.2 350.1,43.1 350.4,42.6 350.8,42.1 351.1,43.3 351.5,42.4 351.9,44.4 352.2,43.1 352.6,43.2 352.9,44.5 353.3,42.9 353.7,43.2 354.0,41.7 354.4,44.1 354.7,43.0 355.1,40.5 355.5,45.1 355.8,41.9 356.2,45.2 356.5,42.9 356.9,43.4 357.3,42.0 357.6,44.0 358.0,42.1 358.3,46.0 358.7,44.8 359.1,43.0 359.4,44.4 359.8,42.4 360.1,45.8 360.5,43.0 360.9,43.4 361.2,44.3 361.6,43.3 361.9,44.0 362.3,44.1 362.7,43.1 363.0,44.4 363.4,43.4 363.7,44.0 364.1,43.7 364.5,45.3 364.8,45.2 365.2,43.4 365.5,44.5 365.9,43.5 366.3,43.1 366.6,44.1 367.0,43.6 367.3,43.9 367.7,42.9 368.1,44.5 368.4,44.4 368.8,43.0 369.1,45.3 369.5,43.5 369.9,44.7 370.2,43.5 370.6,44.3 370.9,44.8 371.3,43.9 371.7,44.8 372.0,43.4 372.4,45.5 372.7,46.1 373.1,45.0 373.5,43.4 373.8,44.3 374.2,43.6 374.5,45.9 374.9,44.4 375.3,46.5 375.6,44.8 376.0,46.3 376.3,45.2 376.7,46.1 377.1,44.8 377.4,46.9 377.8,44.6 378.1,44.8 378.5,46.6 378.9,46.8 379.2,45.4 379.6,46.6 379.9,45.4 380.3,45.1 380.7,45.5 381.0,44.6 381.4,43.9 381.7,43.1 382.1,42.2 382.5,41.2 382.8,40.1 383.2,39.3 383.5,38.0 383.9,37.0 384.3,35.5 384.6,34.6 385.0,33.1 385.3,32.0 385.7,30.8 386.1,29.9 386.4,28.4 386.8,28.0 387.1,27.3 387.5,27.1 387.9,27.0 388.2,27.1 388.6,27.0 388.9,27.1 389.3,27.0 389.7,27.2 390.0,27.0 390.4,27.2 390.7,27.0 391.1,27.0 391.5,27.0 391.8,27.0 392.2,27.0 392.5,27.0 392.9,27.0 393.3,27.0 393.6,27.0 394.0,27.1 394.3,28.7 394.7,34.1 395.1,38.7 395.4,43.6 395.8,48.6 396.1,53.4 396.5,58.3 396.9,63.1 397.2,68.2 397.6,72.9 397.9,77.8 398.3,82.9 398.7,87.5 399.0,92.7 399.4,97.5 399.7,102.2 400.1,107.4 400.5,112.0 400.8,116.9 401.2,121.5 401.5,126.4 401.9,130.9 402.3,136.0 402.6,140.5 403.0,145.5 403.3,149.7 403.7,155.8 404.1,156.5 404.4,166.4 404.8,169.9 405.1,169.6 405.5,186.1 405.9,172.2 406.2,173.6 406.6,194.1 406.9,186.2 407.3,191.3 407.7,187.9 408.0,183.6 408.4,196.8 408.7,189.9 409.1,193.2 409.5,198.9 409.8,188.7 410.2,207.3 410.5,173.6 410.9,193.0 411.3,212.9 411.6,191.3 412.0,183.0 412.3,196.5 412.7,219.9 413.1,189.3 413.4,199.1 413.8,226.7 414.1,192.6 414.5,210.1 414.9,199.1 415.2,201.8 415.6,198.0 415.9,214.1 416.3,199.3 416.7,224.0 417.0,201.1 417.4,218.6 417.7,202.8 418.1,193.5 418.5,209.2 418.8,202.0 419.2,198.3 419.5,213.6 419.9,196.1 420.3,208.1 420.6,205.0 421.0,217.0 421.3,195.9 421.7,198.9 422.1,225.0 422.4,201.2 422.8,215.1 423.1,201.9 423.5,207.6 423.9,199.1 424.2,221.3 424.6,198.5 424.9,216.1 425.3,209.5 425.7,207.7 426.0,221.7 426.4,204.0 426.7,194.7 427.1,227.7 427.5,211.7 427.8,204.9 428.2,226.8 428.5,191.0 428.9,218.1 429.3,207.8 429.6,229.8 430.0,224.4 430.3,209.0 430.7,221.7 431.1,218.1 431.4,208.9 431.8,219.3 432.1,196.7 432.5,232.2 432.9,202.3 433.2,236.7 433.6,212.0 433.9,222.8 434.3,210.8 434.7,230.5 435.0,212.7 435.4,214.7 435.7,206.4 436.1,224.9 436.5,196.9 436.8,215.3 437.2,215.1 437.5,202.2 437.9,221.9 438.3,215.5 438.6,235.1 439.0,210.7 439.3,226.3 439.7,216.2 440.1,227.3 440.4,220.8 440.8,212.2 441.1,237.3 441.5,216.4 441.9,248.5 442.2,220.7 442.6,211.7 442.9,220.0 443.3,230.8 443.7,220.5 444.0,224.9 444.4,216.6 444.7,212.9 445.1,216.6 445.5,225.4 445.8,220.5 446.2,242.1 446.5,216.5 446.9,233.1 447.3,215.8 447.6,226.3 448.0,213.7 448.3,232.2 448.7,217.6 449.1,231.7 449.4,223.1 449.8,215.1 450.1,233.0 450.5,207.4 450.9,211.0 451.2,229.2 451.6,219.6 451.9,241.9 452.3,224.3 452.7,240.6 453.0,219.3 453.4,241.8 453.7,215.0 454.1,237.5 454.5,234.2 454.8,220.8 455.2,231.9 455.5,237.6 455.9,228.1 456.3,233.5 456.6,250.1 457.0,215.3 457.3,232.8 457.7,222.3 458.1,234.1 458.4,227.3 458.8,233.1 459.1,226.0 459.5,240.5 459.9,228.9 460.2,235.2 460.6,229.6 460.9,236.3 461.3,211.9 461.7,243.1 462.0,230.3 462.4,236.8 462.7,214.6 463.1,232.8 463.5,211.7 463.8,230.9 464.2,228.4 464.5,230.4 464.9,215.8 465.3,231.5 465.6,220.3 466.0,233.8 466.3,209.6 466.7,246.1 467.1,215.5 467.4,235.6 467.8,223.1 468.1,235.7 468.5,227.9 468.9,234.5 469.2,227.3 469.6,239.8 469.9,224.5 470.3,214.7 470.7,233.5 471.0,222.7 471.4,245.5 471.7,243.2 472.1,220.7 472.5,218.5 472.8,234.8 473.2,224.6 473.5,230.4 473.9,232.5 474.3,224.5 474.6,242.9 475.0,228.2 475.3,218.6 475.7,236.9 476.1,228.2 476.4,216.6 476.8,237.5 477.1,208.6 477.5,220.5 477.9,233.8 478.2,228.3 478.6,235.6 478.9,228.8" fill="none" stroke="#4c4c4c" stroke-width="0.75" stroke-linejoin="round" opacity="1"/>
<polyline points="407.7,109.9 408.0,113.7 408.4,118.1 408.7,122.1 409.1,125.9 409.5,130.3 409.8,134.2 410.2,138.4 410.5,142.2 410.9,146.5 411.3,149.9 411.6,157.5 412.0,157.7 412.3,165.2 412.7,174.9 413.1,163.9 413.4,175.1 413.8,170.0 414.1,185.9 414.5,173.9 414.9,198.3 415.2,173.8 415.6,197.9 415.9,178.9 416.3,198.8 416.7,188.1 417.0,198.2 417.4,189.4 417.7,200.2 418.1,190.4 418.5,201.9 418.8,187.3 419.2,199.0 419.5,187.5 419.9,198.3 420.3,189.2 420.6,201.0 421.0,189.5 421.3,195.4 421.7,191.4 422.1,206.9 422.4,192.6 422.8,211.5 423.1,192.3 423.5,210.1 423.9,176.2 424.2,222.9 424.6,203.5 424.9,200.5 425.3,199.0 425.7,196.9 426.0,189.6 426.4,217.3 426.7,203.3 427.1,212.1 427.5,195.4 427.8,207.8 428.2,196.1 428.5,209.0 428.9,213.5 429.3,199.4 429.6,194.3 430.0,205.1 430.3,199.5 430.7,219.7 431.1,208.3 431.4,209.8 431.8,201.8 432.1,206.5 432.5,211.9 432.9,216.5 433.2,203.8 433.6,216.6 433.9,199.1 434.3,208.1 434.7,202.0 435.0,239.6 435.4,209.1 435.7,212.5 436.1,219.9 436.5,190.4 436.8,222.7 437.2,216.1 437.5,202.9 437.9,207.4 438.3,208.7 438.6,217.5 439.0,216.2 439.3,226.6 439.7,221.1 440.1,209.7 440.4,227.6 440.8,217.2 441.1,221.1 441.5,216.4 441.9,237.6 442.2,226.5 442.6,214.9 442.9,224.1 443.3,218.1 443.7,214.5 444.0,227.7 444.4,201.6 444.7,223.8 445.1,218.3 445.5,218.2 445.8,190.5 446.2,205.8 446.5,208.3 446.9,229.0 447.3,211.2 447.6,231.0 448.0,218.2 448.3,227.7 448.7,223.1 449.1,226.8 449.4,208.0 449.8,218.6 450.1,222.0 450.5,202.9 450.9,205.0 451.2,223.5 451.6,212.0 451.9,224.5 452.3,231.8 452.7,212.7 453.0,226.7 453.4,220.5 453.7,215.8 454.1,233.4 454.5,220.2 454.8,222.1 455.2,223.4 455.5,213.8 455.9,232.6 456.3,213.6 456.6,225.8 457.0,249.5 457.3,226.4 457.7,211.9 458.1,232.1 458.4,204.6 458.8,214.9 459.1,233.6 459.5,226.0 459.9,229.3 460.2,248.9 460.6,226.4 460.9,229.0 461.3,222.4 461.7,229.1 462.0,218.2 462.4,233.7 462.7,224.8 463.1,238.2 463.5,224.3 463.8,242.8 464.2,218.8 464.5,232.0 464.9,223.5 465.3,235.1 465.6,233.2 466.0,223.3 466.3,224.5 466.7,235.3 467.1,216.2 467.4,238.2 467.8,223.3 468.1,224.2 468.5,230.3 468.9,223.7 469.2,231.2 469.6,219.4 469.9,227.2 470.3,225.8 470.7,211.2 471.0,225.8 471.4,220.1 471.7,239.9 472.1,226.1 472.5,227.5 472.8,211.9 473.2,238.9 473.5,231.3 473.9,224.6 474.3,236.8 474.6,238.8 475.0,212.3 475.3,229.8 475.7,225.8 476.1,214.7 476.4,248.2 476.8,216.5 477.1,236.4 477.5,211.3 477.9,233.5 478.2,230.1 478.6,222.2 478.9,236.8" fill="none" stroke="#4a4a4a" stroke-width="0.75" stroke-linejoin="round" opacity="1"/>
<polyline points="445.9,175.5 446.3,174.2 446.7,177.2 447.1,172.8 447.5,183.2 447.9,193.2 448.3,185.0 448.7,187.8 449.1,175.9 449.5,190.1 449.9,199.2 450.3,177.4 450.7,183.9 451.1,199.1 451.5,196.4 451.9,179.4 452.3,176.5 452.7,190.1 453.1,193.8 453.5,187.2 453.9,198.0 454.3,192.3 454.7,196.8 455.1,210.4 455.5,185.5 455.9,209.8 456.3,188.6 456.7,203.4 457.1,196.7 457.5,204.2 457.9,188.5 458.3,207.2 458.7,199.3 459.1,204.9 459.5,217.2 459.9,195.7 460.3,207.1 460.7,204.3 461.1,208.5 461.5,203.7 461.9,213.8 462.3,200.7 462.7,213.4 463.1,206.2 463.5,196.9 463.9,218.3 464.3,212.3 464.7,206.1 465.1,224.9 465.5,209.4 465.9,218.2 466.3,205.1 466.7,216.9 467.1,202.7 467.5,219.6 467.9,208.9 468.3,224.0 468.7,208.3 469.1,215.7 469.5,206.8 469.9,226.7 470.3,211.6 470.7,202.8 471.1,216.6 471.5,214.9 471.9,219.2 472.3,212.6 472.7,224.2 473.1,209.7 473.5,227.6 473.9,219.6 474.3,220.8 474.7,212.3 475.1,225.1 475.5,216.6 475.9,221.7 476.3,212.7 476.7,226.7 477.1,209.0 477.5,224.1 477.9,216.3 478.3,225.9 478.7,218.8 479.1,220.9 479.5,224.9 479.9,220.5 480.3,224.7 480.7,220.7 481.1,224.0 481.5,214.7 481.9,219.5 482.3,226.5 482.7,233.7 483.1,220.3 483.5,222.7 483.9,217.5 484.3,228.4 484.7,218.4 485.1,226.5 485.5,221.2 485.9,235.6 486.3,221.9 486.7,228.5 487.1,220.3 487.5,228.4 487.9,223.4 488.3,230.7 488.7,224.4 489.1,219.2 489.5,220.8 489.9,215.2 490.3,233.3 490.7,219.4 491.1,237.4 491.5,237.4 491.9,211.1 492.3,227.9 492.7,226.5 493.1,221.5 493.5,217.9 493.9,217.0 494.3,220.7 494.7,231.4 495.1,220.3 495.5,228.5 495.9,222.4 496.3,230.7 496.7,232.9 497.1,223.5 497.5,228.6 497.9,218.8 498.3,226.9 498.7,222.7 499.1,229.3 499.5,224.1 499.9,228.1 500.3,228.9 500.7,239.9 501.1,226.1 501.5,231.7 501.9,218.1 502.3,237.9 502.7,213.9 503.1,223.2 503.5,227.8 503.9,224.4 504.3,228.6 504.7,223.9" fill="none" stroke="#3c3c3c" stroke-width="0.8" stroke-linejoin="round" opacity="1"/>
<polyline points="297.5,49.5 297.9,49.7 298.2,48.9 298.6,49.9 298.9,49.3 299.3,49.6 299.7,50.0 300.0,49.2 300.4,50.1 300.7,50.6 301.1,49.6 301.5,50.4 301.8,49.7 302.2,50.2 302.5,49.5 302.9,49.7 303.3,50.0 303.6,49.3 304.0,50.0 304.3,49.6 304.7,49.9 305.1,49.7 305.4,50.2 305.8,49.6 306.1,49.8 306.5,49.6 306.9,50.0 307.2,49.9 307.6,48.9 307.9,49.1 308.3,49.8 308.7,49.5 309.0,49.7 309.4,49.9 309.7,50.5 310.1,49.5 310.5,49.8 310.8,49.5 311.2,50.6 311.5,49.6 311.9,50.1 312.3,48.8 312.6,49.9 313.0,28.6 313.3,28.9 313.7,38.3 314.1,42.9 314.4,40.9 314.8,43.1 315.1,38.9 315.5,43.5 315.9,40.8 316.2,41.1 316.6,43.4 316.9,41.1 317.3,42.7 317.7,40.4 318.0,42.9 318.4,44.2 318.7,42.2 319.1,42.7 319.5,41.7 319.8,42.6 320.2,41.8 320.5,45.4 320.9,42.0 321.3,44.0 321.6,43.0 322.0,41.0 322.3,43.5 322.7,42.4 323.1,44.2 323.4,42.5 323.8,43.3 324.1,43.1 324.5,40.0 324.9,41.0 325.2,43.2 325.6,41.5 325.9,43.6 326.3,42.1 326.7,43.9 327.0,43.6 327.4,42.9 327.7,41.5 328.1,44.1 328.5,41.6 328.8,43.5 329.2,43.4 329.5,44.4 329.9,44.4 330.3,43.1 330.6,43.6 331.0,41.5 331.3,44.2 331.7,42.4 332.1,42.3 332.4,43.2 332.8,42.9 333.1,44.2 333.5,42.8 333.9,43.8 334.2,43.6 334.6,42.1 334.9,43.4 335.3,43.8 335.7,44.0 336.0,43.1 336.4,44.3 336.7,43.2 337.1,44.7 337.5,43.7 337.8,44.5 338.2,42.2 338.5,43.3 338.9,44.5 339.3,43.2 339.6,45.4 340.0,45.4 340.3,43.5 340.7,45.6 341.1,43.3 341.4,44.9 341.8,41.0 342.1,44.1 342.5,43.6 342.9,43.2 343.2,45.0 343.6,43.2 343.9,45.0 344.3,46.4 344.7,43.7 345.0,46.4 345.4,42.8 345.7,43.6 346.1,44.8 346.5,43.8 346.8,45.0 347.2,42.9 347.5,45.4 347.9,44.5 348.3,45.5 348.6,44.9 349.0,44.0 349.3,44.7 349.7,44.0 350.1,46.3 350.4,44.8 350.8,45.4 351.1,43.7 351.5,44.5 351.9,46.5 352.2,46.4 352.6,44.2 352.9,47.1 353.3,45.2 353.7,46.1 354.0,44.7 354.4,47.4 354.7,44.6 355.1,45.4 355.5,45.3 355.8,44.0 356.2,46.5 356.5,43.1 356.9,45.8 357.3,45.4 357.6,44.1 358.0,45.8 358.3,47.6 358.7,44.5 359.1,47.0 359.4,43.5 359.8,47.4 360.1,45.4 360.5,46.0 360.9,45.0 361.2,45.1 361.6,45.1 361.9,47.9 362.3,43.2 362.7,46.3 363.0,45.6 363.4,46.4 363.7,45.8 364.1,46.5 364.5,45.7 364.8,46.3 365.2,46.1 365.5,48.0 365.9,45.3 366.3,43.3 366.6,47.6 367.0,46.0 367.3,47.4 367.7,47.0 368.1,45.1 368.4,45.8 368.8,47.3 369.1,45.6 369.5,47.9 369.9,44.9 370.2,47.2 370.6,46.4 370.9,46.7 371.3,46.7 371.7,45.4 372.0,47.5 372.4,47.7 372.7,46.0 373.1,47.9 373.5,48.5 373.8,47.7 374.2,47.5 374.5,48.2 374.9,46.7 375.3,47.9 375.6,45.2 376.0,49.6 376.3,47.6 376.7,45.4 377.1,47.5 377.4,44.7 377.8,46.8 378.1,49.1 378.5,48.6 378.9,45.1 379.2,46.8 379.6,44.3 379.9,48.6 380.3,45.3 380.7,47.6 381.0,46.0 381.4,46.7 381.7,46.3 382.1,45.6 382.5,45.8 382.8,45.3 383.2,45.0 383.5,44.6 383.9,44.5 384.3,44.2 384.6,44.2 385.0,43.4 385.3,43.1 385.7,42.5 386.1,42.3 386.4,41.9 386.8,41.3 387.1,41.1 387.5,40.5 387.9,40.1 388.2,39.7 388.6,39.0 388.9,38.9 389.3,38.3 389.7,37.9 390.0,37.4 390.4,37.2 390.7,36.4 391.1,35.9 391.5,35.2 391.8,35.0 392.2,34.2 392.5,33.7 392.9,33.1 393.3,32.8 393.6,32.1 394.0,31.8 394.3,31.1 394.7,30.8 395.1,30.1 395.4,29.5 395.8,29.1 396.1,28.6 396.5,28.4 396.9,28.0 397.2,27.8 397.6,27.8 397.9,27.3 398.3,27.2 398.7,27.0 399.0,27.0 399.4,27.2 399.7,27.1 400.1,27.0 400.5,27.3 400.8,27.0 401.2,29.3 401.5,33.7 401.9,38.5 402.3,42.8 402.6,47.4 403.0,51.9 403.3,56.4 403.7,61.2 404.1,65.5 404.4,70.0 404.8,74.7 405.1,79.1 405.5,83.7 405.9,88.0 406.2,92.9 406.6,97.3 406.9,101.5 407.3,105.5 407.7,109.9" fill="none" stroke="#111" stroke-width="0.95" stroke-linejoin="round" opacity="1"/>
<polyline points="297.5,49.4 297.9,50.0 298.3,49.2 298.7,50.2 299.1,50.1 299.5,50.1 299.9,49.6 300.3,50.0 300.7,49.5 301.1,51.0 301.5,49.9 301.9,50.4 302.3,49.5 302.7,50.4 303.1,49.5 303.5,50.4 303.9,49.7 304.3,50.1 304.7,49.9 305.1,50.4 305.5,49.8 305.9,50.1 306.3,49.2 306.7,50.5 307.1,50.1 307.5,49.7 307.9,50.1 308.3,49.4 308.7,50.4 309.1,48.7 309.5,50.8 309.9,49.7 310.3,49.5 310.7,50.1 311.1,49.7 311.5,50.2 311.9,49.6 312.3,50.5 312.7,42.2 313.1,29.7 313.5,29.9 313.9,41.8 314.3,39.3 314.7,42.5 315.1,39.6 315.5,42.1 315.9,40.5 316.3,42.9 316.7,40.0 317.1,42.4 317.5,41.5 317.9,41.1 318.3,41.2 318.7,41.8 319.1,40.1 319.5,44.5 319.9,41.1 320.3,43.1 320.7,41.2 321.1,41.7 321.5,43.8 321.9,42.4 322.3,42.6 322.7,43.8 323.1,40.3 323.5,40.5 323.9,45.8 324.3,43.9 324.7,42.3 325.1,44.1 325.5,42.8 325.9,43.7 326.3,42.1 326.7,43.9 327.1,42.4 327.5,44.3 327.9,41.4 328.3,44.3 328.7,41.3 329.1,44.1 329.5,41.8 329.9,44.1 330.3,42.1 330.7,42.5 331.1,45.5 331.5,41.9 331.9,43.1 332.3,42.9 332.7,43.4 333.1,44.5 333.5,42.2 333.9,43.9 334.3,42.1 334.7,46.5 335.1,43.7 335.5,42.9 335.9,45.3 336.3,42.6 336.7,44.9 337.1,44.1 337.5,42.9 337.9,45.1 338.3,42.6 338.7,42.5 339.1,44.8 339.5,44.1 339.9,43.1 340.3,44.1 340.7,44.1 341.1,43.1 341.5,44.4 341.9,43.9 342.3,44.7 342.7,43.5 343.1,45.7 343.5,41.9 343.9,46.2 344.3,45.1 344.7,42.4 345.1,45.4 345.5,45.1 345.9,43.9 346.3,45.2 346.7,44.3 347.1,43.5 347.5,43.9 347.9,42.2 348.3,44.6 348.7,44.2 349.1,43.9 349.5,44.6 349.9,44.8 350.3,44.1 350.7,45.5 351.1,44.3 351.5,45.4 351.9,44.3 352.3,47.4 352.7,43.3 353.1,45.0 353.5,43.4 353.9,45.0 354.3,44.3 354.7,43.6 355.1,45.9 355.5,43.2 355.9,44.8 356.3,44.5 356.7,44.1 357.1,44.9 357.5,44.0 357.9,45.6 358.3,42.5 358.7,46.1 359.1,44.6 359.5,45.0 359.9,43.6 360.3,45.6 360.7,44.6 361.1,45.4 361.5,44.6 361.9,45.6 362.3,45.2 362.7,47.3 363.1,48.4 363.5,46.0 363.9,43.9 364.3,47.0 364.7,45.6 365.1,46.3 365.5,45.7 365.9,45.3 366.3,45.9 366.7,45.8 367.1,45.6 367.5,48.9 367.9,45.1 368.3,46.7 368.7,44.7 369.1,45.4 369.5,47.6 369.9,47.7 370.3,44.8 370.7,47.1 371.1,44.9 371.5,48.6 371.9,46.9 372.3,45.8 372.7,46.7 373.1,45.4 373.5,45.4 373.9,47.3 374.3,46.0 374.7,46.9 375.1,47.7 375.5,46.1 375.9,46.8 376.3,46.4 376.7,47.7 377.1,45.3 377.5,46.6 377.9,45.9 378.3,46.1 378.7,48.4 379.1,45.7 379.5,46.8 379.9,46.3 380.3,48.2 380.7,46.0 381.1,46.1 381.5,46.9 381.9,47.1 382.3,46.6 382.7,48.7 383.1,46.6 383.5,48.5 383.9,46.1 384.3,49.0 384.7,45.4 385.1,47.0 385.5,45.5 385.9,47.5 386.3,46.0 386.7,47.6 387.1,46.1 387.5,47.7 387.9,46.7 388.3,47.2 388.7,46.0 389.1,47.1 389.5,46.1 389.9,48.1 390.3,46.6 390.7,47.3 391.1,47.1 391.5,48.7 391.9,47.0 392.3,46.6 392.7,48.0 393.1,46.9 393.5,47.9 393.9,47.9 394.3,47.0 394.7,49.0 395.1,48.3 395.5,47.5 395.9,49.1 396.3,47.7 396.7,49.2 397.1,47.9 397.5,49.2 397.9,47.7 398.3,48.5 398.7,47.9 399.1,50.4 399.5,47.9 399.9,46.3 400.3,49.9 400.7,49.0 401.1,48.2 401.5,48.2 401.9,48.1 402.3,48.8 402.7,47.8 403.1,49.5 403.5,46.6 403.9,48.0 404.3,49.6 404.7,48.8 405.1,48.5 405.5,48.6 405.9,48.3 406.3,48.7 406.7,47.8 407.1,49.2 407.5,46.6 407.9,47.3 408.3,48.1 408.7,47.4 409.1,48.0 409.5,46.7 409.9,47.1 410.3,47.2 410.7,46.9 411.1,46.9 411.5,46.4 411.9,46.6 412.3,47.1 412.7,47.2 413.1,46.1 413.5,47.0 413.9,45.9 414.3,46.6 414.7,45.3 415.1,45.1 415.5,44.4 415.9,44.7 416.3,44.8 416.7,42.5 417.1,43.7 417.5,42.7 417.9,41.8 418.3,42.0 418.7,40.3 419.1,40.6 419.5,40.0 419.9,38.4 420.3,38.5 420.7,36.9 421.1,35.7 421.5,36.3 421.9,34.9 422.3,34.5 422.7,33.4 423.1,33.0 423.5,31.6 423.9,31.2 424.3,30.7 424.7,29.5 425.1,29.1 425.5,27.9 425.9,27.8 426.3,27.2 426.7,27.0 427.1,27.2 427.5,27.0 427.9,27.1 428.3,27.0 428.7,27.2 429.1,27.0 429.5,27.0 429.9,27.2 430.3,27.0 430.7,27.1 431.1,27.0 431.5,27.0 431.9,27.0 432.3,27.2 432.7,27.0 433.1,27.0 433.5,27.2 433.9,27.0 434.3,27.1 434.7,27.0 435.1,27.0 435.5,27.0 435.9,29.7 436.3,34.5 436.7,39.7 437.1,44.7 437.5,50.0 437.9,55.2 438.3,60.1 438.7,65.6 439.1,70.5 439.5,75.6 439.9,80.6 440.3,85.9 440.7,90.9 441.1,95.8 441.5,101.7 441.9,108.2 442.3,114.7 442.7,121.1 443.1,127.8 443.5,134.1 443.9,140.8 444.3,147.2 444.7,157.3 445.1,160.4 445.5,165.7 445.9,175.5" fill="none" stroke="#0a0a0a" stroke-width="1.0" stroke-linejoin="round" opacity="1"/>
<polyline points="297.5,46.9 297.9,47.8 298.3,47.4 298.7,48.1 299.1,48.1 299.5,47.6 299.9,47.0 300.3,48.5 300.7,47.5 301.1,48.2 301.5,47.5 301.9,47.8 302.3,48.4 302.7,47.1 303.1,48.2 303.5,47.4 303.9,48.2 304.3,47.5 304.7,48.0 305.1,47.5 305.5,47.8 305.9,47.6 306.3,48.5 306.7,48.1 307.1,47.2 307.5,48.1 307.9,46.9 308.3,48.1 308.7,47.4 309.1,48.1 309.5,47.1 309.9,47.8 310.3,47.4 310.7,47.7 311.1,47.7 311.5,48.0 311.9,47.5 312.3,47.9 312.7,40.6 313.1,27.1 313.5,32.5 313.9,39.1 314.3,41.0 314.7,39.5 315.1,41.5 315.5,40.1 315.9,40.6 316.3,39.3 316.7,41.5 317.1,39.1 317.5,41.8 317.9,40.9 318.3,40.0 318.7,41.2 319.1,39.8 319.5,42.5 319.9,41.8 320.3,40.7 320.7,43.5 321.1,43.4 321.5,41.0 321.9,40.5 322.3,41.7 322.7,40.7 323.1,44.1 323.5,41.1 323.9,41.9 324.3,45.0 324.7,42.4 325.1,40.7 325.5,41.1 325.9,41.9 326.3,41.7 326.7,40.7 327.1,39.5 327.5,43.4 327.9,41.4 328.3,42.6 328.7,40.7 329.1,41.6 329.5,42.3 329.9,39.5 330.3,41.9 330.7,40.0 331.1,41.8 331.5,43.9 331.9,42.7 332.3,40.9 332.7,43.8 333.1,41.5 333.5,42.6 333.9,40.8 334.3,40.8 334.7,44.5 335.1,40.7 335.5,43.1 335.9,42.2 336.3,43.3 336.7,43.3 337.1,42.4 337.5,42.1 337.9,41.0 338.3,43.5 338.7,42.6 339.1,39.5 339.5,43.3 339.9,42.3 340.3,41.8 340.7,45.4 341.1,39.9 341.5,43.4 341.9,42.4 342.3,43.3 342.7,44.7 343.1,41.5 343.5,45.3 343.9,42.8 344.3,43.4 344.7,41.9 345.1,44.1 345.5,42.1 345.9,43.5 346.3,45.1 346.7,41.1 347.1,43.7 347.5,42.3 347.9,44.1 348.3,42.3 348.7,43.6 349.1,41.4 349.5,43.7 349.9,43.2 350.3,43.5 350.7,41.6 351.1,45.0 351.5,43.0 351.9,45.1 352.3,42.4 352.7,44.3 353.1,43.5 353.5,45.0 353.9,42.9 354.3,43.9 354.7,41.1 355.1,43.8 355.5,44.0 355.9,43.4 356.3,44.1 356.7,42.4 357.1,43.4 357.5,45.3 357.9,43.7 358.3,45.6 358.7,44.6 359.1,42.9 359.5,45.0 359.9,44.1 360.3,44.8 360.7,45.2 361.1,44.1 361.5,42.5 361.9,44.5 362.3,44.2 362.7,42.7 363.1,45.5 363.5,43.2 363.9,44.9 364.3,43.4 364.7,45.1 365.1,46.1 365.5,43.9 365.9,45.7 366.3,44.7 366.7,45.2 367.1,44.9 367.5,45.9 367.9,44.5 368.3,43.5 368.7,46.9 369.1,44.4 369.5,46.7 369.9,44.0 370.3,46.6 370.7,46.1 371.1,45.6 371.5,45.0 371.9,47.5 372.3,44.4 372.7,46.6 373.1,45.4 373.5,47.4 373.9,44.1 374.3,46.1 374.7,45.4 375.1,47.9 375.5,45.3 375.9,46.2 376.3,45.9 376.7,46.2 377.1,45.5 377.5,45.9 377.9,46.2 378.3,44.5 378.7,46.9 379.1,45.8 379.5,47.7 379.9,43.8 380.3,45.5 380.7,46.3 381.1,47.1 381.5,46.0 381.9,44.8 382.3,46.5 382.7,45.7 383.1,46.3 383.5,45.6 383.9,44.9 384.3,44.9 384.7,44.4 385.1,44.3 385.5,43.5 385.9,43.5 386.3,42.9 386.7,42.6 387.1,41.8 387.5,41.7 387.9,40.9 388.3,40.6 388.7,40.3 389.1,39.3 389.5,39.0 389.9,38.7 390.3,38.3 390.7,37.6 391.1,36.9 391.5,36.5 391.9,35.6 392.3,35.4 392.7,34.6 393.1,34.1 393.5,33.5 393.9,33.0 394.3,32.3 394.7,31.8 395.1,31.2 395.5,30.7 395.9,30.0 396.3,29.5 396.7,28.8 397.1,28.6 397.5,28.1 397.9,28.1 398.3,27.6 398.7,27.4 399.1,27.3 399.5,27.0 399.9,27.0 400.3,27.0 400.7,27.1 401.1,27.0 401.5,27.0 401.9,27.0 402.3,27.2 402.7,27.2 403.1,27.0 403.5,27.1 403.9,27.0 404.3,27.1 404.7,27.2 405.1,27.0 405.5,27.2 405.9,27.0 406.3,27.2 406.7,27.0 407.1,27.1 407.5,30.2 407.9,34.9 408.3,39.3 408.7,43.9 409.1,48.4 409.5,52.6 409.9,57.4 410.3,61.8 410.7,66.6 411.1,71.0 411.5,75.0 411.9,79.8 412.3,84.2 412.7,88.8 413.1,93.4 413.5,97.7 413.9,102.6 414.3,108.2 414.7,113.7 415.1,119.0 415.5,124.5 415.9,129.9 416.3,135.3 416.7,140.8 417.1,145.6 417.5,153.0 417.9,157.0 418.3,158.8 418.7,167.5 419.1,169.7 419.5,174.6 419.9,173.1 420.3,183.5 420.7,171.0 421.1,180.6 421.5,174.2 421.9,187.5 422.3,180.4 422.7,188.6 423.1,169.1 423.5,174.7 423.9,192.3 424.3,189.4 424.7,189.8 425.1,185.3 425.5,190.3 425.9,198.2 426.3,190.5 426.7,199.9 427.1,182.7 427.5,198.9 427.9,189.4 428.3,194.5 428.7,187.3 429.1,194.4 429.5,208.1 429.9,198.8 430.3,199.6 430.7,197.2 431.1,203.8 431.5,182.6 431.9,201.2 432.3,200.8 432.7,206.0 433.1,198.1 433.5,201.7 433.9,208.9 434.3,201.5 434.7,204.7 435.1,195.5 435.5,205.6 435.9,199.9 436.3,212.2 436.7,205.5 437.1,218.3 437.5,199.3 437.9,213.7 438.3,202.0 438.7,213.1 439.1,206.6 439.5,214.5 439.9,210.8 440.3,211.9 440.7,209.5 441.1,216.4 441.5,210.4 441.9,205.3 442.3,214.0 442.7,207.9 443.1,212.2 443.5,214.9 443.9,207.0 444.3,214.5 444.7,212.3 445.1,224.0 445.5,209.8 445.9,210.7 446.3,219.1 446.7,201.5 447.1,220.6 447.5,204.5 447.9,220.9 448.3,214.4 448.7,225.2 449.1,227.7 449.5,217.5 449.9,225.8 450.3,208.5 450.7,224.7 451.1,202.4 451.5,210.8 451.9,217.8 452.3,212.6 452.7,220.8 453.1,214.4 453.5,220.8 453.9,214.8 454.3,222.1 454.7,211.7 455.1,220.6 455.5,211.9 455.9,220.2 456.3,224.6 456.7,212.5 457.1,219.6 457.5,212.0 457.9,225.9 458.3,214.0 458.7,221.0 459.1,212.5 459.5,219.7 459.9,229.3 460.3,217.6 460.7,212.7 461.1,222.3 461.5,227.9 461.9,218.2 462.3,215.1 462.7,230.8 463.1,220.1 463.5,237.4 463.9,219.6 464.3,227.3 464.7,211.2 465.1,231.5 465.5,219.0 465.9,225.6 466.3,232.4 466.7,228.3 467.1,219.7 467.5,220.9 467.9,218.5 468.3,220.7 468.7,215.0 469.1,220.9 469.5,214.9 469.9,220.6 470.3,215.1 470.7,216.8 471.1,225.5 471.5,218.8 471.9,225.8 472.3,224.3 472.7,214.0 473.1,225.0 473.5,213.4 473.9,220.8 474.3,221.8 474.7,223.8" fill="none" stroke="#000" stroke-width="0.95" stroke-linejoin="round" opacity="1"/>
</g>
<g stroke="#000" stroke-width="1.6" fill="none" stroke-linecap="butt">
<line x1="150.40" y1="91.20" x2="124.60" y2="104.60"/>
<line x1="150.40" y1="111.70" x2="125.40" y2="128.00"/>
<line x1="150.40" y1="135.80" x2="129.80" y2="157.00"/>
<line x1="150.80" y1="158.30" x2="142.70" y2="199.60"/>
<line x1="363.25" y1="85.75" x2="398.75" y2="92.00"/>
<line x1="363.25" y1="108.00" x2="407.50" y2="116.00"/>
<line x1="363.25" y1="130.75" x2="416.50" y2="140.50"/>
<line x1="363.25" y1="153.75" x2="445.50" y2="169.50"/>
<polyline points="416.5,140.5 417,150 419,172" stroke-width="1.3"/>
</g>
<g font-family="Liberation Sans, Arial, Helvetica, sans-serif" fill="#000" stroke="#000" stroke-width="0.4">
<text x="49.60" y="62.40" font-size="16.4" text-anchor="end" font-weight="normal" >0</text>
<text x="295.40" y="61.80" font-size="16.4" text-anchor="end" font-weight="normal" >0</text>
<text x="49.60" y="85.10" font-size="16.4" text-anchor="end" font-weight="normal" >10</text>
<text x="295.40" y="84.50" font-size="16.4" text-anchor="end" font-weight="normal" >10</text>
<text x="49.60" y="107.80" font-size="16.4" text-anchor="end" font-weight="normal" >20</text>
<text x="295.40" y="107.20" font-size="16.4" text-anchor="end" font-weight="normal" >20</text>
<text x="49.60" y="130.50" font-size="16.4" text-anchor="end" font-weight="normal" >30</text>
<text x="295.40" y="129.90" font-size="16.4" text-anchor="end" font-weight="normal" >30</text>
<text x="49.60" y="153.20" font-size="16.4" text-anchor="end" font-weight="normal" >40</text>
<text x="295.40" y="152.60" font-size="16.4" text-anchor="end" font-weight="normal" >40</text>
<text x="49.60" y="175.90" font-size="16.4" text-anchor="end" font-weight="normal" >50</text>
<text x="295.40" y="175.30" font-size="16.4" text-anchor="end" font-weight="normal" >50</text>
<text x="49.60" y="198.60" font-size="16.4" text-anchor="end" font-weight="normal" >60</text>
<text x="295.40" y="198.00" font-size="16.4" text-anchor="end" font-weight="normal" >60</text>
<text x="49.60" y="221.30" font-size="16.4" text-anchor="end" font-weight="normal" >70</text>
<text x="295.40" y="220.70" font-size="16.4" text-anchor="end" font-weight="normal" >70</text>
<text x="49.60" y="244.00" font-size="16.4" text-anchor="end" font-weight="normal" >80</text>
<text x="295.40" y="243.40" font-size="16.4" text-anchor="end" font-weight="normal" >80</text>
<text x="49.60" y="266.70" font-size="16.4" text-anchor="end" font-weight="normal" >90</text>
<text x="295.40" y="266.10" font-size="16.4" text-anchor="end" font-weight="normal" >90</text>
<text x="49.60" y="289.40" font-size="16.4" text-anchor="end" font-weight="normal" >100</text>
<text x="295.40" y="288.80" font-size="16.4" text-anchor="end" font-weight="normal" >100</text>
<text x="51.50" y="324.80" font-size="16.2" text-anchor="middle" font-weight="normal" >0</text>
<text x="84.20" y="324.80" font-size="16.2" text-anchor="middle" font-weight="normal" >1</text>
<text x="116.90" y="324.80" font-size="16.2" text-anchor="middle" font-weight="normal" >2</text>
<text x="149.60" y="324.80" font-size="16.2" text-anchor="middle" font-weight="normal" >3</text>
<text x="182.30" y="324.80" font-size="16.2" text-anchor="middle" font-weight="normal" >4</text>
<text x="215.00" y="324.80" font-size="16.2" text-anchor="middle" font-weight="normal" >5</text>
<text x="247.70" y="324.80" font-size="16.2" text-anchor="middle" font-weight="normal" >6</text>
<text x="298.30" y="324.60" font-size="16.2" text-anchor="middle" font-weight="normal" >0</text>
<text x="327.85" y="324.60" font-size="16.2" text-anchor="middle" font-weight="normal" >2</text>
<text x="357.40" y="324.60" font-size="16.2" text-anchor="middle" font-weight="normal" >4</text>
<text x="386.95" y="324.60" font-size="16.2" text-anchor="middle" font-weight="normal" >6</text>
<text x="416.50" y="324.60" font-size="16.2" text-anchor="middle" font-weight="normal" >8</text>
<text x="446.05" y="324.60" font-size="16.2" text-anchor="middle" font-weight="normal" >10</text>
<text x="475.60" y="324.60" font-size="16.2" text-anchor="middle" font-weight="normal" >12</text>
<text x="505.15" y="324.60" font-size="16.2" text-anchor="middle" font-weight="normal" >14</text>
<text x="154.80" y="341.70" font-size="16.95" text-anchor="middle" font-weight="normal" >Time (min)</text>
<text x="409.00" y="340.80" font-size="17.1" text-anchor="middle" font-weight="normal" >Time (min)</text>
<text transform="translate(17.6,173.9) rotate(-90)" font-size="16.8" text-anchor="middle" textLength="158.5" lengthAdjust="spacing">Percent Aggregation</text>
<text x="152.00" y="93.50" font-size="12.8" text-anchor="start" font-weight="normal" >400%</text>
<text x="328.60" y="90.70" font-size="12.7" text-anchor="start" font-weight="normal" >400%</text>
<text x="152.00" y="115.95" font-size="12.8" text-anchor="start" font-weight="normal" >300%</text>
<text x="328.60" y="113.20" font-size="12.7" text-anchor="start" font-weight="normal" >300%</text>
<text x="152.00" y="138.40" font-size="12.8" text-anchor="start" font-weight="normal" >200%</text>
<text x="328.60" y="135.70" font-size="12.7" text-anchor="start" font-weight="normal" >200%</text>
<text x="152.00" y="160.85" font-size="12.8" text-anchor="start" font-weight="normal" >100%</text>
<text x="328.60" y="158.20" font-size="12.7" text-anchor="start" font-weight="normal" >100%</text>
<text x="15.60" y="16.90" font-size="19.3" text-anchor="start" font-weight="bold" >A</text>
<text x="278.90" y="14.00" font-size="19" text-anchor="start" font-weight="bold" >B</text>
<text x="39.80" y="382.10" font-size="19.3" text-anchor="start" font-weight="bold" >C</text>
<text x="278.70" y="383.20" font-size="19" text-anchor="start" font-weight="bold" >D</text>
</g>
<rect x="76.24" y="546.25" width="38.70" height="24.05" fill="#e4e4e4" stroke="#383838" stroke-width="0.85"/>
<rect x="123.93" y="545.00" width="38.70" height="25.30" fill="#a2a2a2" stroke="#383838" stroke-width="0.85"/>
<rect x="171.62" y="549.25" width="38.70" height="21.05" fill="#2b2b2b" stroke="#383838" stroke-width="0.85"/>
<rect x="219.31" y="548.00" width="38.70" height="22.30" fill="#000" stroke="#383838" stroke-width="0.85"/>
<g stroke="#1a1a1a" stroke-width="0.8">
<line x1="95.59" y1="542.00" x2="95.59" y2="550.50"/>
<line x1="94.69" y1="542.00" x2="96.49" y2="542.00"/>
<line x1="94.69" y1="550.50" x2="96.49" y2="550.50"/>
<line x1="143.28" y1="540.50" x2="143.28" y2="551.00"/>
<line x1="142.38" y1="540.50" x2="144.18" y2="540.50"/>
<line x1="142.38" y1="551.00" x2="144.18" y2="551.00"/>
<line x1="190.97" y1="545.75" x2="190.97" y2="553.00"/>
<line x1="190.07" y1="545.75" x2="191.87" y2="545.75"/>
<line x1="190.07" y1="553.00" x2="191.87" y2="553.00"/>
<line x1="238.66" y1="544.50" x2="238.66" y2="551.00"/>
<line x1="237.76" y1="544.50" x2="239.56" y2="544.50"/>
<line x1="237.76" y1="551.00" x2="239.56" y2="551.00"/>
</g>
<g stroke="#3a3a3a" stroke-width="0.9" fill="none">
<rect x="71.75" y="396.70" width="190.75" height="173.60"/>
<line x1="71.75" y1="570.30" x2="73.95" y2="570.30"/>
<line x1="262.50" y1="570.30" x2="260.30" y2="570.30"/>
<line x1="71.75" y1="548.87" x2="73.95" y2="548.87"/>
<line x1="262.50" y1="548.87" x2="260.30" y2="548.87"/>
<line x1="71.75" y1="527.44" x2="73.95" y2="527.44"/>
<line x1="262.50" y1="527.44" x2="260.30" y2="527.44"/>
<line x1="71.75" y1="506.01" x2="73.95" y2="506.01"/>
<line x1="262.50" y1="506.01" x2="260.30" y2="506.01"/>
<line x1="71.75" y1="484.58" x2="73.95" y2="484.58"/>
<line x1="262.50" y1="484.58" x2="260.30" y2="484.58"/>
<line x1="71.75" y1="463.15" x2="73.95" y2="463.15"/>
<line x1="262.50" y1="463.15" x2="260.30" y2="463.15"/>
<line x1="71.75" y1="441.72" x2="73.95" y2="441.72"/>
<line x1="262.50" y1="441.72" x2="260.30" y2="441.72"/>
<line x1="71.75" y1="420.29" x2="73.95" y2="420.29"/>
<line x1="262.50" y1="420.29" x2="260.30" y2="420.29"/>
<line x1="119.44" y1="570.30" x2="119.44" y2="568.10"/>
<line x1="119.44" y1="396.70" x2="119.44" y2="398.90"/>
<line x1="167.12" y1="570.30" x2="167.12" y2="568.10"/>
<line x1="167.12" y1="396.70" x2="167.12" y2="398.90"/>
<line x1="214.81" y1="570.30" x2="214.81" y2="568.10"/>
<line x1="214.81" y1="396.70" x2="214.81" y2="398.90"/>
</g>
<g font-family="Liberation Sans, Arial, Helvetica, sans-serif" fill="#000" stroke="#000" stroke-width="0.22">
<text x="67.55" y="573.90" font-size="10" text-anchor="end" font-weight="normal" >0</text>
<text x="67.55" y="552.47" font-size="10" text-anchor="end" font-weight="normal" >2</text>
<text x="67.55" y="531.04" font-size="10" text-anchor="end" font-weight="normal" >4</text>
<text x="67.55" y="509.61" font-size="10" text-anchor="end" font-weight="normal" >6</text>
<text x="67.55" y="488.18" font-size="10" text-anchor="end" font-weight="normal" >8</text>
<text x="67.55" y="466.75" font-size="10" text-anchor="end" font-weight="normal" >10</text>
<text x="67.55" y="445.32" font-size="10" text-anchor="end" font-weight="normal" >12</text>
<text x="67.55" y="423.89" font-size="10" text-anchor="end" font-weight="normal" >14</text>
<text x="67.55" y="401.20" font-size="10" text-anchor="end" font-weight="normal" >16</text>
<text x="96.49" y="581.30" font-size="10" text-anchor="middle" font-weight="normal" >100</text>
<text x="144.18" y="581.30" font-size="10" text-anchor="middle" font-weight="normal" >200</text>
<text x="191.87" y="581.30" font-size="10" text-anchor="middle" font-weight="normal" >300</text>
<text x="239.56" y="581.30" font-size="10" text-anchor="middle" font-weight="normal" >400</text>
<text x="166.20" y="596.20" font-size="10" text-anchor="middle" font-weight="bold" >% FVIII</text>
<text transform="translate(51.95,489.2) rotate(-90)" font-size="10" text-anchor="middle">Lag Time (minutes)</text>
</g>
<rect x="323.78" y="454.25" width="38.70" height="116.05" fill="#e4e4e4" stroke="#383838" stroke-width="0.85"/>
<rect x="371.54" y="471.25" width="38.70" height="99.05" fill="#a2a2a2" stroke="#383838" stroke-width="0.85"/>
<rect x="419.31" y="496.00" width="38.70" height="74.30" fill="#2b2b2b" stroke="#383838" stroke-width="0.85"/>
<rect x="467.07" y="498.40" width="38.70" height="71.90" fill="#000" stroke="#383838" stroke-width="0.85"/>
<g stroke="#1a1a1a" stroke-width="0.8">
<line x1="343.13" y1="419.50" x2="343.13" y2="489.50"/>
<line x1="342.23" y1="419.50" x2="344.03" y2="419.50"/>
<line x1="342.23" y1="489.50" x2="344.03" y2="489.50"/>
<line x1="390.89" y1="438.25" x2="390.89" y2="503.75"/>
<line x1="389.99" y1="438.25" x2="391.79" y2="438.25"/>
<line x1="389.99" y1="503.75" x2="391.79" y2="503.75"/>
<line x1="438.66" y1="480.40" x2="438.66" y2="511.30"/>
<line x1="437.76" y1="480.40" x2="439.56" y2="480.40"/>
<line x1="437.76" y1="511.30" x2="439.56" y2="511.30"/>
<line x1="486.42" y1="486.60" x2="486.42" y2="509.00"/>
<line x1="485.52" y1="486.60" x2="487.32" y2="486.60"/>
<line x1="485.52" y1="509.00" x2="487.32" y2="509.00"/>
</g>
<g stroke="#3a3a3a" stroke-width="0.9" fill="none">
<rect x="319.25" y="396.70" width="191.05" height="173.60"/>
<line x1="319.25" y1="570.30" x2="321.45" y2="570.30"/>
<line x1="510.30" y1="570.30" x2="508.10" y2="570.30"/>
<line x1="319.25" y1="548.87" x2="321.45" y2="548.87"/>
<line x1="510.30" y1="548.87" x2="508.10" y2="548.87"/>
<line x1="319.25" y1="527.44" x2="321.45" y2="527.44"/>
<line x1="510.30" y1="527.44" x2="508.10" y2="527.44"/>
<line x1="319.25" y1="506.01" x2="321.45" y2="506.01"/>
<line x1="510.30" y1="506.01" x2="508.10" y2="506.01"/>
<line x1="319.25" y1="484.58" x2="321.45" y2="484.58"/>
<line x1="510.30" y1="484.58" x2="508.10" y2="484.58"/>
<line x1="319.25" y1="463.15" x2="321.45" y2="463.15"/>
<line x1="510.30" y1="463.15" x2="508.10" y2="463.15"/>
<line x1="319.25" y1="441.72" x2="321.45" y2="441.72"/>
<line x1="510.30" y1="441.72" x2="508.10" y2="441.72"/>
<line x1="319.25" y1="420.29" x2="321.45" y2="420.29"/>
<line x1="510.30" y1="420.29" x2="508.10" y2="420.29"/>
<line x1="367.01" y1="570.30" x2="367.01" y2="568.10"/>
<line x1="367.01" y1="396.70" x2="367.01" y2="398.90"/>
<line x1="414.77" y1="570.30" x2="414.77" y2="568.10"/>
<line x1="414.77" y1="396.70" x2="414.77" y2="398.90"/>
<line x1="462.54" y1="570.30" x2="462.54" y2="568.10"/>
<line x1="462.54" y1="396.70" x2="462.54" y2="398.90"/>
</g>
<g font-family="Liberation Sans, Arial, Helvetica, sans-serif" fill="#000" stroke="#000" stroke-width="0.22">
<text x="315.05" y="573.90" font-size="10" text-anchor="end" font-weight="normal" >0</text>
<text x="315.05" y="552.47" font-size="10" text-anchor="end" font-weight="normal" >2</text>
<text x="315.05" y="531.04" font-size="10" text-anchor="end" font-weight="normal" >4</text>
<text x="315.05" y="509.61" font-size="10" text-anchor="end" font-weight="normal" >6</text>
<text x="315.05" y="488.18" font-size="10" text-anchor="end" font-weight="normal" >8</text>
<text x="315.05" y="466.75" font-size="10" text-anchor="end" font-weight="normal" >10</text>
<text x="315.05" y="445.32" font-size="10" text-anchor="end" font-weight="normal" >12</text>
<text x="315.05" y="423.89" font-size="10" text-anchor="end" font-weight="normal" >14</text>
<text x="315.05" y="401.20" font-size="10" text-anchor="end" font-weight="normal" >16</text>
<text x="344.03" y="581.30" font-size="10" text-anchor="middle" font-weight="normal" >100</text>
<text x="391.79" y="581.30" font-size="10" text-anchor="middle" font-weight="normal" >200</text>
<text x="439.56" y="581.30" font-size="10" text-anchor="middle" font-weight="normal" >300</text>
<text x="487.32" y="581.30" font-size="10" text-anchor="middle" font-weight="normal" >400</text>
<text x="414.30" y="596.20" font-size="10" text-anchor="middle" font-weight="bold" >% FVIII</text>
<text transform="translate(299.45,489.2) rotate(-90)" font-size="10" text-anchor="middle">Lag Time (minutes)</text>
<text x="390.29" y="432.10" font-size="14" text-anchor="middle" font-weight="bold" >*</text>
<text x="438.06" y="474.10" font-size="14" text-anchor="middle" font-weight="bold" >*</text>
<text x="485.82" y="480.35" font-size="14" text-anchor="middle" font-weight="bold" >*</text>
</g>
</svg>
</body></html>
